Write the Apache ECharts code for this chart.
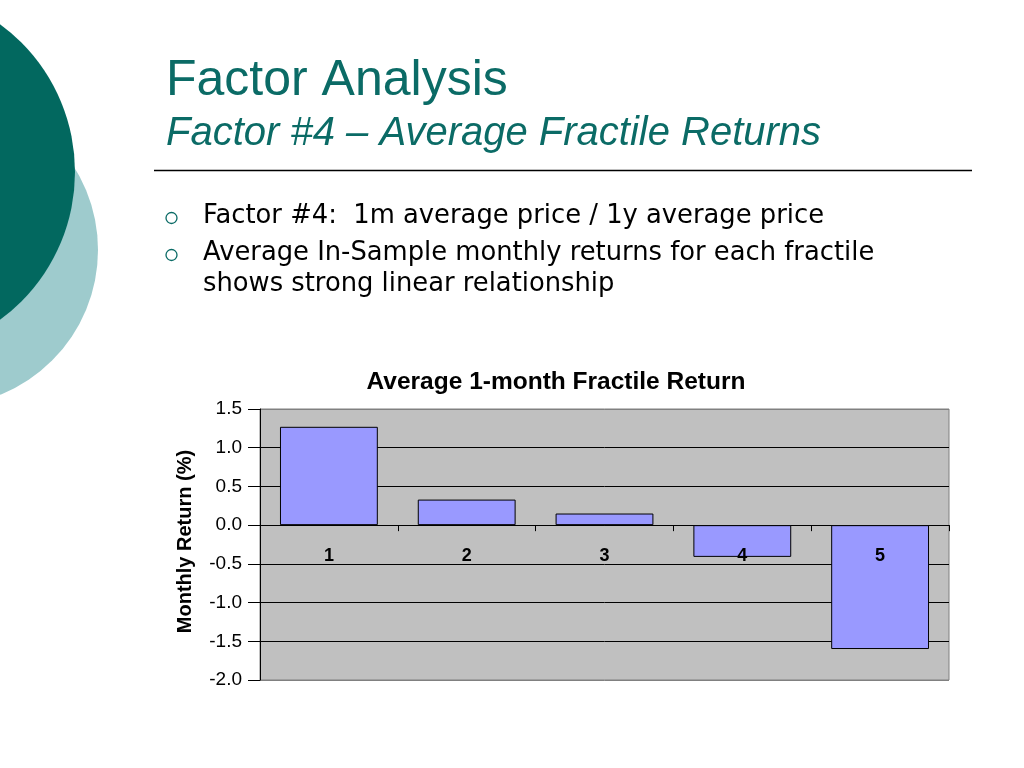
<!DOCTYPE html>
<html>
<head>
<meta charset="utf-8">
<script src="https://cdn.jsdelivr.net/npm/echarts@6/dist/echarts.min.js"></script>
<style>html,body{margin:0;padding:0;background:#fff;}#c{width:1024px;height:768px;}</style>
</head>
<body>
<div id="c"></div>
<script>
const categories = ['1', '2', '3', '4', '5'];
const returns = [1.27, 0.33, 0.15, -0.41, -1.60];
const zeroLine = [0, 0, 0, 0, 0];
const yMin = -2.0, yMax = 1.5, yStep = 0.5;
const titleText = 'Factor Analysis';
const subtitleText = 'Factor #4 \u2013 Average Fractile Returns';
const bulletLines = [
  'Factor #4:  1m average price / 1y average price',
  'Average In-Sample monthly returns for each fractile',
  'shows strong linear relationship'
];
const chartTitle = 'Average 1-month Fractile Return';
const yAxisName = 'Monthly Return (%)';

const teal = '#0b6b66';
const chart = echarts.init(document.getElementById('c'));
const gridLineColors = ['#808080', '#000', '#000', '#000', '#000', '#000', '#000', '#808080'];

chart.setOption({
  animation: false,
  backgroundColor: '#ffffff',
  title: {
    text: chartTitle,
    left: 551, top: 365, textAlign: 'center',
    textStyle: { fontFamily: 'Liberation Sans', fontWeight: 'bold', fontSize: 24.5, color: '#000' }
  },
  grid: { left: 260, right: 75, top: 409, bottom: 88, show: true, backgroundColor: '#c0c0c0', borderColor: '#808080', borderWidth: 1 },
  xAxis: {
    type: 'category',
    data: categories,
    axisLine: { onZero: true, lineStyle: { color: '#000', width: 1 } },
    axisTick: { show: true, alignWithLabel: false, length: 6, lineStyle: { color: '#000' } },
    axisLabel: { show: false },
    splitLine: { show: false }
  },
  yAxis: {
    type: 'value',
    min: yMin, max: yMax, interval: yStep,
    name: yAxisName,
    nameLocation: 'middle',
    nameGap: 65,
    nameTextStyle: { fontFamily: 'Liberation Sans', fontWeight: 'bold', fontSize: 20, color: '#000', padding: [0, 0, 0, 6] },
    axisLine: { show: true, onZero: false, lineStyle: { color: '#000' } },
    axisTick: { show: true, length: 12, lineStyle: { color: '#000' } },
    axisLabel: { margin: 18, fontFamily: 'Liberation Sans', fontSize: 19, color: '#000', formatter: v => v.toFixed(1) },
    splitLine: { show: true, lineStyle: { color: gridLineColors, width: 1 } }
  },
  series: [{
    type: 'bar',
    data: returns,
    barCategoryGap: '29%',
    itemStyle: { color: '#9999ff', borderColor: '#000', borderWidth: 1 }
  }, {
    type: 'scatter',
    data: zeroLine,
    symbolSize: 1,
    itemStyle: { color: '#000', opacity: 0 },
    z: 5,
    silent: true,
    label: {
      show: true, position: 'bottom', distance: 21, formatter: '{b}', opacity: 1,
      fontFamily: 'Liberation Sans', fontWeight: 'bold', fontSize: 18, color: '#000'
    }
  }],
  graphic: [
    { type: 'circle', shape: { cx: -58, cy: 250, r: 156 }, style: { fill: '#9ecbcd' }, z: 0 },
    { type: 'circle', shape: { cx: -108, cy: 172, r: 183 }, style: { fill: '#02685f' }, z: 1 },
    { type: 'text', style: { text: titleText, x: 166, y: 81, font: '50px "Liberation Sans"', fill: teal, textVerticalAlign: 'middle' }, z: 2 },
    { type: 'text', style: { text: subtitleText, x: 166, y: 134, font: 'italic 40px "Liberation Sans"', fill: teal, textVerticalAlign: 'middle' }, z: 2 },
    { type: 'line', shape: { x1: 154, y1: 170.5, x2: 972, y2: 170.5 }, style: { stroke: '#000', lineWidth: 1.5 }, z: 2 },
    { type: 'circle', shape: { cx: 171.5, cy: 218, r: 5.5 }, style: { fill: 'none', stroke: teal, lineWidth: 1.3 }, z: 2 },
    { type: 'circle', shape: { cx: 171.5, cy: 255, r: 5.5 }, style: { fill: 'none', stroke: teal, lineWidth: 1.3 }, z: 2 },
    { type: 'text', style: { text: bulletLines[0], x: 203, y: 216, font: '25.8px "DejaVu Sans"', fill: '#000', textVerticalAlign: 'middle' }, z: 2 },
    { type: 'text', style: { text: bulletLines[1], x: 203, y: 253, font: '25.8px "DejaVu Sans"', fill: '#000', textVerticalAlign: 'middle' }, z: 2 },
    { type: 'text', style: { text: bulletLines[2], x: 203, y: 284, font: '25.8px "DejaVu Sans"', fill: '#000', textVerticalAlign: 'middle' }, z: 2 }
  ]
});
</script>
</body>
</html>
